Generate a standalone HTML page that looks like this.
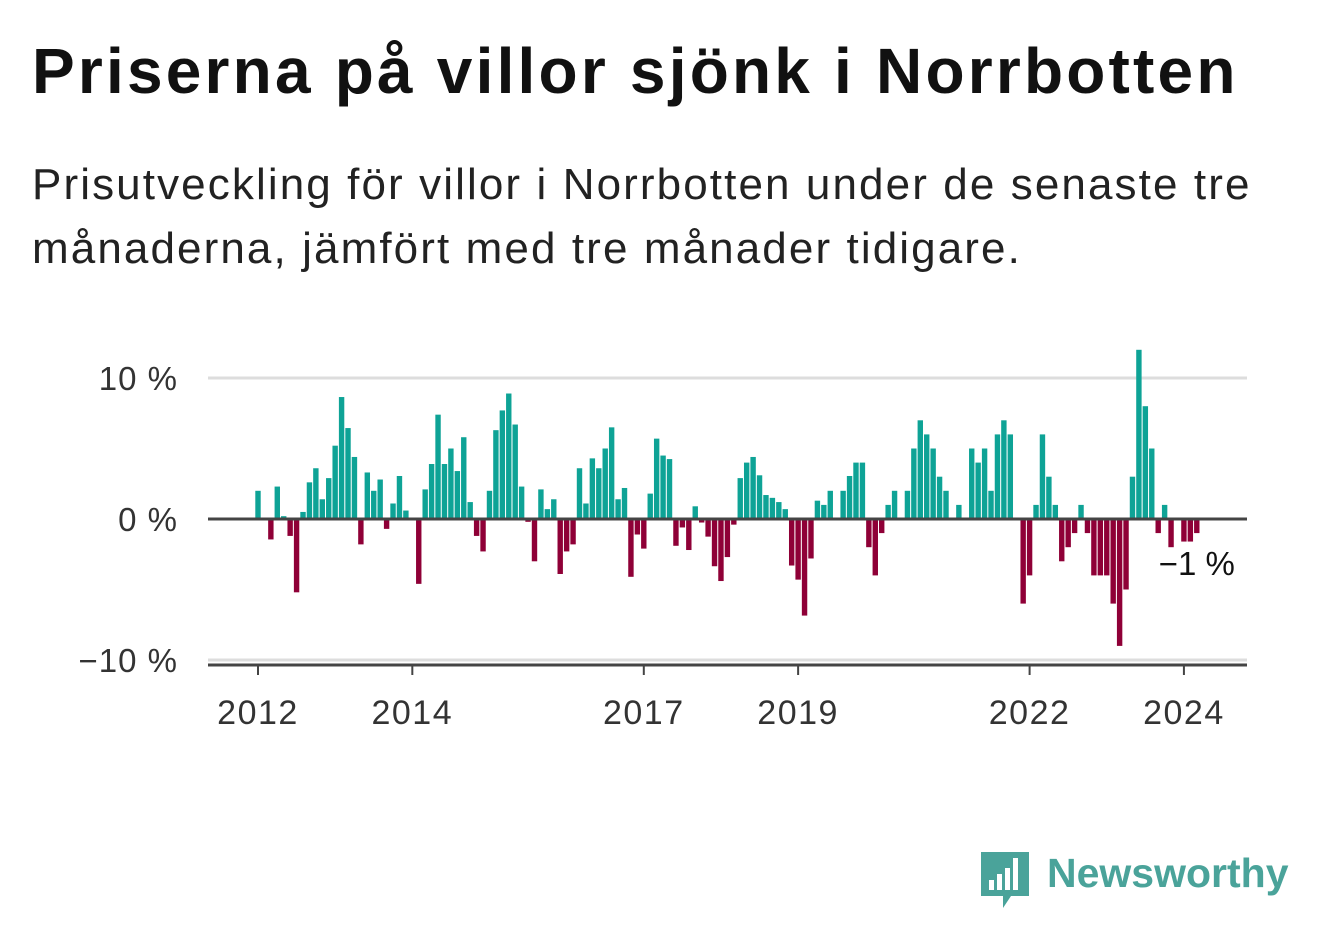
<!DOCTYPE html>
<html><head><meta charset="utf-8"><style>
body{margin:0;background:#fff;width:1322px;height:939px;overflow:hidden;font-family:"Liberation Sans","DejaVu Sans",sans-serif;}
#title{position:absolute;left:32px;top:34px;font-size:64px;font-weight:bold;color:#111;margin:0;letter-spacing:3.2px;white-space:nowrap}
#sub{position:absolute;left:32px;top:153px;font-size:44px;color:#222;line-height:64px;width:1280px;letter-spacing:2.1px}
svg{position:absolute;left:0;top:0}
</style></head><body>
<h1 id="title">Priserna på villor sjönk i Norrbotten</h1>
<div id="sub">Prisutveckling för villor i Norrbotten under de senaste tre månaderna, jämfört med tre månader tidigare.</div>
<svg id="chart" width="1322" height="939"></svg>
<script>
const startYear = 2012;
const values = [2.0,0,-1.45,2.3,0.2,-1.2,-5.2,0.5,2.6,3.6,1.4,2.9,5.2,8.65,6.45,4.4,-1.8,3.3,2.0,2.8,-0.7,1.1,3.05,0.6,
0,-4.6,2.1,3.9,7.4,3.9,5.0,3.4,5.8,1.2,-1.2,-2.3,2.0,6.3,7.7,8.9,6.7,2.3,-0.2,-3.0,2.1,0.7,1.4,-3.9,
-2.3,-1.8,3.6,1.1,4.3,3.6,5.0,6.5,1.4,2.2,-4.1,-1.1,-2.1,1.8,5.7,4.5,4.25,-1.9,-0.6,-2.2,0.9,-0.25,-1.25,-3.35,
-4.4,-2.7,-0.4,2.9,4.0,4.4,3.1,1.7,1.5,1.2,0.7,-3.3,-4.3,-6.85,-2.8,1.3,1.0,2.0,0,2.0,3.05,4.0,4.0,-2.0,
-4.0,-1.0,1.0,2.0,0,2.0,5.0,7.0,6.0,5.0,3.0,2.0,0,1.0,0,5.0,4.0,5.0,2.0,6.0,7.0,6.0,0,-6.0,
-4.0,1.0,6.0,3.0,1.0,-3.0,-2.0,-1.0,1.0,-1.0,-4.0,-4.0,-4.0,-6.0,-9.0,-5.0,3.0,12.0,8.0,5.0,-1.0,1.0,-2.0,0,
-1.6,-1.6,-1.0];
const yTicks = [10,0,-10];
const yTickLabels = ["10 %","0 %","−10 %"];
const xTicks = [2012,2014,2017,2019,2022,2024];
const lastLabel = "−1 %";

const NS="http://www.w3.org/2000/svg";
const svg=document.getElementById('chart');
const x0=258, perMonth=6.43, y0=519, perPct=14.1;
const xScale=i=>x0+i*perMonth;
const yScale=v=>y0-v*perPct;
function mk(tag,attrs){const e=document.createElementNS(NS,tag);for(const k in attrs)e.setAttribute(k,attrs[k]);svg.appendChild(e);return e;}
yTicks.forEach((t,k)=>{
  if(t!==0){const l=mk('line',{x1:208,x2:1247,y1:yScale(t),y2:yScale(t),stroke:'#ddd','stroke-width':3});
  
  }
  const tx=mk('text',{x:178,y:yScale(t)+12,'text-anchor':'end','font-size':33,fill:'#333','letter-spacing':1});
  tx.textContent=yTickLabels[k];
  
  
});
values.forEach((v,i)=>{
  if(v===0)return;
  const y=v>0?yScale(v):y0, h=Math.abs(v)*perPct;
  const r=mk('rect',{x:xScale(i)-2.7,y:y,width:5.4,height:h,fill:v>0?'#0ea396':'#8f0037'});
  
  
});
const zl=mk('line',{x1:208,x2:1247,y1:y0,y2:y0,stroke:'#444','stroke-width':3});


const ax=mk('line',{x1:208,x2:1247,y1:665,y2:665,stroke:'#444','stroke-width':3});


xTicks.forEach(yr=>{
  const x=xScale((yr-startYear)*12);
  const t=mk('line',{x1:x,x2:x,y1:665,y2:675,stroke:'#444','stroke-width':2});
  
  
  const tx=mk('text',{x:x,y:724,'text-anchor':'middle','font-size':34,fill:'#333','letter-spacing':1.5});
  tx.textContent=yr;
  
  
});
const ll=mk('text',{x:xScale(values.length-1),y:575,'text-anchor':'middle','font-size':33,fill:'#111',stroke:'#fff','stroke-width':6,'paint-order':'stroke'});
ll.textContent=lastLabel;


</script>
<div style="position:absolute;left:981px;top:850px;">
  <svg width="50" height="60" style="position:absolute;left:0;top:0">
    <path d="M0 2 h48 v44 h-18 l-8 12 v-12 h-22 z" fill="#4aa39a"/>
    <rect x="8" y="30" width="5" height="10" fill="#fff"/><rect x="16" y="24" width="5" height="16" fill="#fff"/>
    <rect x="24" y="18" width="5" height="22" fill="#fff"/><rect x="32" y="8" width="5" height="32" fill="#fff"/>
  </svg>
  <span style="position:absolute;left:66px;top:0px;font-size:41px;font-weight:bold;color:#4aa39a;white-space:nowrap">Newsworthy</span>
</div>
</body></html>
